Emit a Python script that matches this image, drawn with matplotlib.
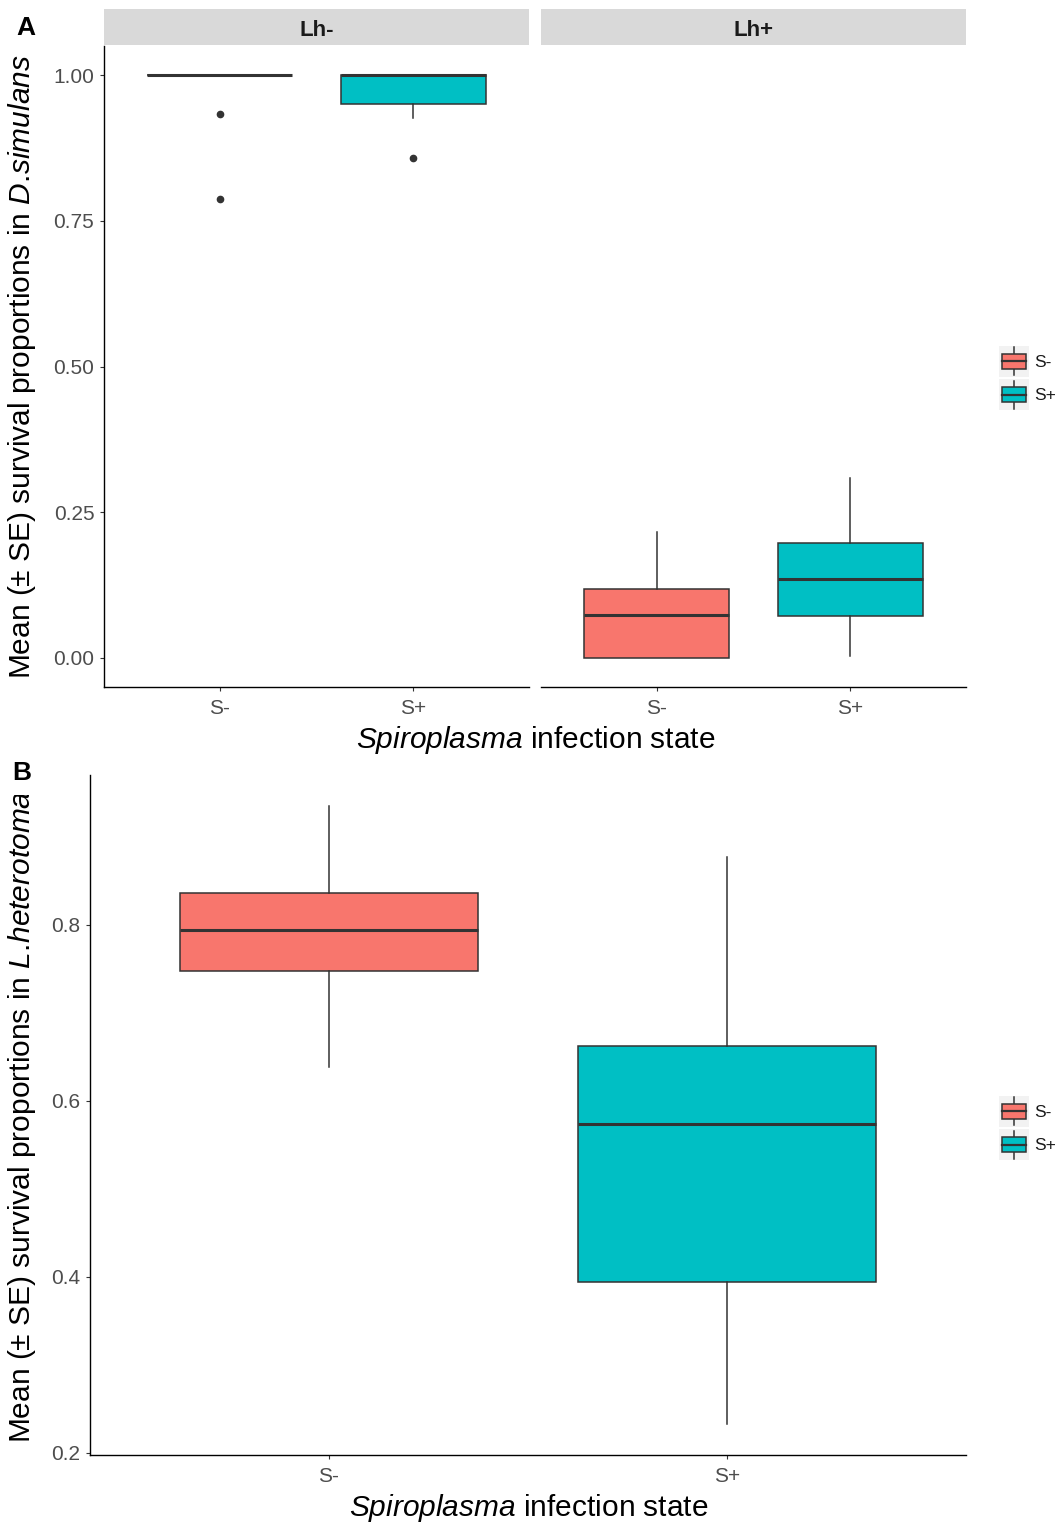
import matplotlib
matplotlib.use("Agg")
import matplotlib.pyplot as plt
from matplotlib.patches import Rectangle, Patch
from matplotlib.lines import Line2D
from matplotlib.legend_handler import HandlerBase
from matplotlib.transforms import Bbox, TransformedBbox

plt.rcParams['font.family'] = ['Liberation Sans', 'DejaVu Sans']
plt.rcParams['mathtext.fontset'] = 'custom'
plt.rcParams['mathtext.rm'] = 'Liberation Sans'
plt.rcParams['mathtext.it'] = 'Liberation Sans:italic'

# ---------------- data ----------------
groups = ["S-", "S+"]
colors = ["#F8766D", "#00BFC4"]

# Panel A, facet Lh-
a_neg_q1 = [1.000, 0.950]
a_neg_med = [1.000, 1.000]
a_neg_q3 = [1.000, 1.000]
a_neg_lo = [1.000, 0.926]
a_neg_hi = [1.000, 1.000]
a_neg_fliers = [[0.933, 0.787], [0.858]]

# Panel A, facet Lh+
a_pos_q1 = [0.000, 0.072]
a_pos_med = [0.074, 0.135]
a_pos_q3 = [0.118, 0.197]
a_pos_lo = [0.000, 0.003]
a_pos_hi = [0.216, 0.309]
a_pos_fliers = [[], []]

# Panel B
b_q1 = [0.748, 0.394]
b_med = [0.794, 0.574]
b_q3 = [0.836, 0.663]
b_lo = [0.639, 0.233]
b_hi = [0.935, 0.877]
b_fliers = [[], []]

facets = ["Lh-", "Lh+"]
yticks_a = [0.00, 0.25, 0.50, 0.75, 1.00]
yticks_b = [0.2, 0.4, 0.6, 0.8]

W, H = 1057, 1524
fig = plt.figure(figsize=(W / 100, H / 100), dpi=100)

EDGE = "#333333"
TICKC = "#4D4D4D"
TICKSIZE = 15
LABSIZE = 21.5


def fx(px):
    return px / W


def fy(py):
    return 1 - py / H


def make_stats(q1, med, q3, lo, hi, fl):
    out = []
    for i in range(len(q1)):
        out.append(dict(q1=q1[i], med=med[i], q3=q3[i], whislo=lo[i], whishi=hi[i],
                        fliers=fl[i], label=groups[i]))
    return out


def draw_box(ax, stats, ylim, yticks, ytickfmt, show_y=True):
    bp = ax.bxp(stats, positions=[1, 2], widths=0.75, patch_artist=True, showcaps=False,
                boxprops=dict(edgecolor=EDGE, linewidth=1.1),
                medianprops=dict(color=EDGE, linewidth=2.2, solid_capstyle='butt'),
                whiskerprops=dict(color=EDGE, linewidth=1.1),
                flierprops=dict(marker='o', markerfacecolor=EDGE, markeredgecolor=EDGE,
                                markersize=4.5, linestyle='none'))
    for patch, c in zip(bp['boxes'], colors):
        patch.set_facecolor(c)
    ax.set_xlim(0.4, 2.6)
    ax.set_ylim(*ylim)
    ax.set_xticks([1, 2])
    ax.set_xticklabels(groups)
    ax.set_yticks(yticks)
    ax.set_yticklabels([ytickfmt.format(v) for v in yticks])
    for s in ['top', 'right']:
        ax.spines[s].set_visible(False)
    for s in ['left', 'bottom']:
        ax.spines[s].set_color('black')
        ax.spines[s].set_linewidth(1.0)
    ax.tick_params(axis='both', colors=EDGE, labelcolor=TICKC, labelsize=TICKSIZE,
                   length=3, width=0.8, pad=4)
    ax.tick_params(axis='x', pad=5.5)
    if not show_y:
        ax.spines['left'].set_visible(False)
        ax.tick_params(axis='y', left=False, labelleft=False)


# ---------------- Panel A ----------------
top_a, bot_a = 46, 687
panel_x = [(104, 529), (541, 966)]
facet_stats = [
    make_stats(a_neg_q1, a_neg_med, a_neg_q3, a_neg_lo, a_neg_hi, a_neg_fliers),
    make_stats(a_pos_q1, a_pos_med, a_pos_q3, a_pos_lo, a_pos_hi, a_pos_fliers),
]
for k, (x0, x1) in enumerate(panel_x):
    ax = fig.add_axes([fx(x0), fy(bot_a), fx(x1 - x0), (bot_a - top_a) / H])
    draw_box(ax, facet_stats[k], (-0.05, 1.05), yticks_a, "{:.2f}", show_y=(k == 0))
    # strip
    ph = bot_a - top_a
    ax.add_patch(Rectangle((0, 1 + 1 / ph), 1, 36 / ph, transform=ax.transAxes,
                           facecolor='#D9D9D9', edgecolor='none', clip_on=False))
    ax.text(0.5, 1 + 16 / ph, facets[k], transform=ax.transAxes,
            ha='center', va='center', fontsize=16, fontweight='bold', color='#1A1A1A')

fig.text(fx(22), fy((top_a + bot_a) / 2),
         r"Mean (± SE) survival proportions in $\mathit{D.\!simulans}$",
         rotation=90, ha='center', va='center', fontsize=LABSIZE, color='black')
fig.text(fx(536), fy(740), r"$\mathit{Spiroplasma}$ infection state",
         ha='center', va='center', fontsize=LABSIZE, color='black')
fig.text(fx(26), fy(28), "A", ha='center', va='center', fontsize=19, fontweight='bold')

# ---------------- Panel B ----------------
top_b, bot_b = 775, 1455
axb = fig.add_axes([fx(90), fy(bot_b), fx(966 - 90), (bot_b - top_b) / H])
draw_box(axb, make_stats(b_q1, b_med, b_q3, b_lo, b_hi, b_fliers), (0.1975, 0.9705),
         yticks_b, "{:.1f}")
ylab_b = fig.text(fx(22), fy((top_b + bot_b) / 2 + 2),
                  r"Mean (± SE) survival proportions in $\mathit{L.\!heterotoma}$",
                  rotation=90, ha='center', va='center', fontsize=LABSIZE, color='black')
ylab_b.set_clip_box(TransformedBbox(Bbox([[0, 0], [1, fy(795)]]), fig.transFigure))
ylab_b.set_clip_on(True)
fig.text(fx(529), fy(1508), r"$\mathit{Spiroplasma}$ infection state",
         ha='center', va='center', fontsize=LABSIZE, color='black')
fig.text(fx(22), fy(773), "B", ha='center', va='center', fontsize=19, fontweight='bold')


# ---------------- Legends ----------------
class BoxHandler(HandlerBase):
    def create_artists(self, legend, orig_handle, xdescent, ydescent, width, height,
                       fontsize, trans):
        x0, y0 = -xdescent, -ydescent
        fc = orig_handle.get_facecolor()
        bg = Rectangle((x0, y0), width, height, facecolor='#F2F2F2', edgecolor='none',
                       transform=trans)
        xc = x0 + width / 2
        wt = Line2D([xc, xc], [y0 + 0.74 * height, y0 + 0.95 * height], color=EDGE,
                    lw=1.1, transform=trans)
        wb = Line2D([xc, xc], [y0 + 0.05 * height, y0 + 0.26 * height], color=EDGE,
                    lw=1.1, transform=trans)
        bx = Rectangle((x0 + 0.1 * width, y0 + 0.26 * height), 0.8 * width, 0.48 * height,
                       facecolor=fc, edgecolor=EDGE, lw=1.1, transform=trans)
        med = Line2D([x0 + 0.1 * width, x0 + 0.9 * width], [y0 + 0.5 * height] * 2,
                     color=EDGE, lw=1.6, transform=trans)
        return [bg, wt, wb, bx, med]


handles = [Patch(facecolor=c) for c in colors]
for cy in [(346 + 410) / 2, (1096 + 1160) / 2]:
    fig.legend(handles, groups, handler_map={Patch: BoxHandler()},
               loc='center left', bbox_to_anchor=(fx(999), fy(cy)), frameon=False,
               fontsize=12.5, handlelength=1.75, handleheight=2.35, labelspacing=0.15,
               handletextpad=0.3, borderpad=0, borderaxespad=0, labelcolor='#1A1A1A')

fig.savefig("out.png", dpi=100)
